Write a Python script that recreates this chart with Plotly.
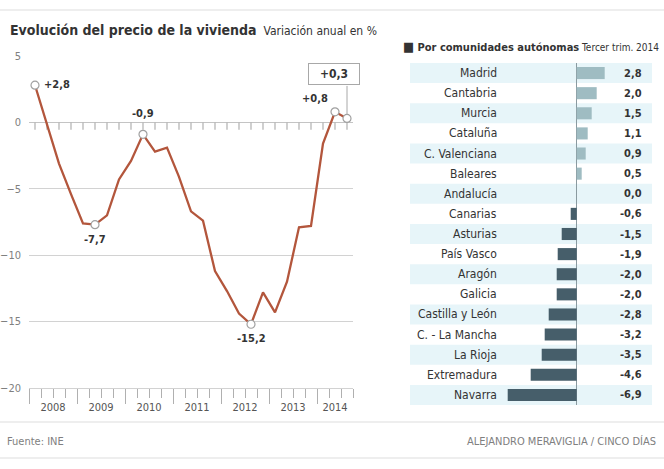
import plotly.graph_objects as go

W, H = 664, 469

# ---------------- data ----------------
quarters = ["2008T1","2008T2","2008T3","2008T4",
            "2009T1","2009T2","2009T3","2009T4",
            "2010T1","2010T2","2010T3","2010T4",
            "2011T1","2011T2","2011T3","2011T4",
            "2012T1","2012T2","2012T3","2012T4",
            "2013T1","2013T2","2013T3","2013T4",
            "2014T1","2014T2","2014T3"]
variacion = [2.8, -0.2, -3.1, -5.4,
             -7.6, -7.7, -7.0, -4.3,
             -2.9, -0.9, -2.2, -1.9,
             -4.1, -6.7, -7.4, -11.2,
             -12.7, -14.4, -15.2, -12.8,
             -14.3, -12.0, -7.9, -7.8,
             -1.6, 0.8, 0.3]
years = ["2008", "2009", "2010", "2011", "2012", "2013", "2014"]
y_ticks = [5, 0, -5, -10, -15, -20]
highlight_idx = [0, 5, 9, 18, 25, 26]

regiones = ["Madrid", "Cantabria", "Murcia", "Cataluña", "C. Valenciana",
            "Baleares", "Andalucía", "Canarias", "Asturias", "País Vasco",
            "Aragón", "Galicia", "Castilla y León", "C. - La Mancha",
            "La Rioja", "Extremadura", "Navarra"]
valores = [2.8, 2.0, 1.5, 1.1, 0.9, 0.5, 0.0, -0.6, -1.5, -1.9,
           -2.0, -2.0, -2.8, -3.2, -3.5, -4.6, -6.9]

# ---------------- style ----------------
FONT = "DejaVu Sans Condensed, Liberation Sans Narrow, Roboto, sans-serif"
LINE_C = "#b3563c"
GRID_C = "#d2d2d2"
TICK_C = "#b0b0b0"
POS_C = "#9fbcc2"
NEG_C = "#465e6a"
STRIPE_C = "#e7f5f9"
TXT = "#333333"
GRAY_TXT = "#808080"

def px_x(p):
    return p / W

def px_y(p):
    return (H - p) / H

def fmt(v, sign=False):
    s = f"{v:+.1f}" if sign else f"{v:.1f}"
    return s.replace(".", ",")

xq = [i + 0.5 for i in range(len(variacion))]
n_q = len(variacion)

fig = go.Figure()

# small tick marks hanging from the zero line at every quarter
fig.add_trace(go.Scatter(x=xq, y=[0] * n_q, mode="markers",
                         marker=dict(size=2, color="rgba(255,255,255,0)"),
                         error_y=dict(type="data", symmetric=False,
                                      array=[0] * n_q, arrayminus=[0.55] * n_q,
                                      width=0, thickness=1.2, color=TICK_C,
                                      visible=True),
                         hoverinfo="skip", xaxis="x", yaxis="y"))
# line
fig.add_trace(go.Scatter(x=xq, y=variacion, mode="lines",
                         line=dict(color=LINE_C, width=2.3),
                         hoverinfo="skip", xaxis="x", yaxis="y"))
fig.add_trace(go.Scatter(x=[xq[i] for i in highlight_idx],
                         y=[variacion[i] for i in highlight_idx],
                         mode="markers",
                         marker=dict(color="white", size=8,
                                     line=dict(color="#a0a0a0", width=1.2)),
                         hoverinfo="skip", xaxis="x", yaxis="y"))
# invisible carrier so the year-label axis gets drawn
fig.add_trace(go.Scatter(x=xq, y=variacion, mode="lines", opacity=0,
                         line=dict(width=0), hoverinfo="skip",
                         xaxis="x2", yaxis="y"))

# bars
fig.add_trace(go.Bar(y=regiones, x=valores, orientation="h",
                     marker=dict(color=[POS_C if v > 0 else NEG_C for v in valores],
                                 line=dict(width=0)),
                     width=0.6, hoverinfo="skip", xaxis="x4", yaxis="y4"))

x_dom = [px_x(29), px_x(353)]
y_dom = [px_y(388), px_y(56)]

year_starts = list(range(0, n_q, 4))
minor_vals = [q for q in range(0, n_q + 1) if q % 4 != 0]
year_mids = [min(s + 4, n_q) / 2 + s / 2 for s in year_starts]

annotations = []
shapes = []

# point labels
lab_style = dict(showarrow=False, font=dict(family=FONT, size=11, color=TXT),
                 xref="x", yref="y")
annotations.append(dict(x=xq[0], y=variacion[0], text="<b>" + fmt(variacion[0], True) + "</b>",
                        xanchor="left", yanchor="middle", xshift=7, yshift=1, **lab_style))
annotations.append(dict(x=xq[9], y=variacion[9], text="<b>" + fmt(variacion[9]) + "</b>",
                        xanchor="center", yanchor="bottom", yshift=12, **lab_style))
annotations.append(dict(x=xq[5], y=variacion[5], text="<b>" + fmt(variacion[5]) + "</b>",
                        xanchor="center", yanchor="top", yshift=-6, **lab_style))
annotations.append(dict(x=xq[18], y=variacion[18], text="<b>" + fmt(variacion[18]) + "</b>",
                        xanchor="center", yanchor="top", yshift=-6, **lab_style))
annotations.append(dict(x=xq[25], y=variacion[25], text="<b>" + fmt(variacion[25], True) + "</b>",
                        xanchor="right", yanchor="bottom", xshift=-5, yshift=5, **lab_style))
# boxed last value + leader
annotations.append(dict(x=xq[26], y=variacion[26], text="", showarrow=True,
                        arrowhead=0, arrowwidth=1, arrowcolor="#a8a8a8",
                        ax=0, ay=-34, standoff=4, xref="x", yref="y"))
annotations.append(dict(x=xq[26], y=variacion[26], text="<b>" + fmt(variacion[26], True) + "</b>",
                        showarrow=False, xref="x", yref="y",
                        xanchor="center", yanchor="bottom", xshift=-13, yshift=33,
                        font=dict(family=FONT, size=12, color=TXT),
                        bordercolor="#a8a8a8", borderwidth=1, borderpad=3,
                        bgcolor="white", width=44))

# right panel stripes, labels, values
for i, (r, v) in enumerate(zip(regiones, valores)):
    if i % 2 == 0:
        shapes.append(dict(type="rect", xref="paper", yref="y4",
                           x0=px_x(410), x1=px_x(652), y0=i - 0.5, y1=i + 0.5,
                           fillcolor=STRIPE_C, line=dict(width=0), layer="below"))
    annotations.append(dict(x=px_x(499), y=r, xref="paper", yref="y4", text=r,
                            showarrow=False, xanchor="right", yanchor="middle",
                            font=dict(family=FONT, size=12, color=TXT)))
    annotations.append(dict(x=px_x(644), y=r, xref="paper", yref="y4",
                            text="<b>" + fmt(v) + "</b>",
                            showarrow=False, xanchor="right", yanchor="middle",
                            font=dict(family=FONT, size=11, color=TXT)))

# titles
annotations.append(dict(x=px_x(8), y=px_y(30), xref="paper", yref="paper",
                        xanchor="left", yanchor="middle", showarrow=False,
                        text="<b>Evolución del precio de la vivienda</b>"
                             "<span style='font-size:12px'>  Variación anual en %</span>",
                        font=dict(family=FONT, size=14, color=TXT)))
annotations.append(dict(x=px_x(401), y=px_y(47), xref="paper", yref="paper",
                        xanchor="left", yanchor="middle", showarrow=False,
                        text="<b><span style='font-size:13px'>■</span> Por comunidades autónomas</b>"
                             "<span style='font-size:10px'> Tercer trim. 2014</span>",
                        font=dict(family=FONT, size=11, color=TXT)))
# footer
annotations.append(dict(x=px_x(5), y=px_y(441), xref="paper", yref="paper",
                        xanchor="left", yanchor="middle", showarrow=False,
                        text="Fuente: INE",
                        font=dict(family=FONT, size=11, color=GRAY_TXT)))
annotations.append(dict(x=px_x(658), y=px_y(441), xref="paper", yref="paper",
                        xanchor="right", yanchor="middle", showarrow=False,
                        text="ALEJANDRO MERAVIGLIA / CINCO DÍAS",
                        font=dict(family=FONT, size=11, color=GRAY_TXT)))

for yy in (10, 422, 458):
    shapes.append(dict(type="line", xref="paper", yref="paper",
                       x0=0, x1=1, y0=px_y(yy), y1=px_y(yy),
                       line=dict(color="#dedede", width=1.2)))

bar_dom_x = [px_x(505), px_x(652)]
bar_range = [(505 - 576.7) / 10, (652 - 576.7) / 10]

fig.update_layout(
    width=W, height=H, margin=dict(l=0, r=0, t=0, b=0, autoexpand=False),
    paper_bgcolor="white", plot_bgcolor="rgba(0,0,0,0)",
    showlegend=False, font=dict(family=FONT, color=TXT),
    annotations=annotations, shapes=shapes,
    xaxis=dict(domain=x_dom, range=[0, n_q], anchor="y", automargin=False,
               showgrid=False, zeroline=False, showline=True,
               linecolor=GRID_C, linewidth=1,
               tickmode="array", tickvals=year_starts, ticks="outside",
               ticklen=15, tickcolor=TICK_C, tickwidth=1,
               showticklabels=False,
               minor=dict(tickmode="array", tickvals=minor_vals, ticks="outside",
                          ticklen=9, tickcolor=TICK_C, tickwidth=1, showgrid=False)),
    xaxis2=dict(overlaying="x", range=[0, n_q], anchor="y", side="bottom",
                automargin=False,
                showgrid=False, zeroline=False, showline=False,
                tickmode="array", tickvals=year_mids, ticktext=years,
                ticks="outside", ticklen=9, tickcolor="rgba(0,0,0,0)",
                tickfont=dict(family=FONT, size=11, color="#555555")),
    yaxis=dict(domain=y_dom, range=[-20, 5], anchor="x", automargin=False,
               tickmode="array", tickvals=y_ticks,
               showgrid=True, gridcolor=GRID_C, gridwidth=1.2,
               zeroline=True, zerolinecolor="#c4c4c4", zerolinewidth=1.2,
               showline=False,
               ticks="", ticklabelstandoff=7,
               tickfont=dict(family=FONT, size=11, color=GRAY_TXT)),
    xaxis4=dict(domain=bar_dom_x, range=bar_range, anchor="y4", automargin=False,
                showgrid=False, zeroline=True, zerolinecolor="#8a9aa0",
                zerolinewidth=1, showline=False, showticklabels=False, ticks=""),
    yaxis4=dict(domain=[px_y(405), px_y(63)], anchor="x4", automargin=False,
                range=[len(regiones) - 0.5, -0.5], type="category",
                showgrid=False, zeroline=False, showline=False,
                showticklabels=False, ticks=""),
)

fig.write_html("out.html", config={"displayModeBar": False},
               post_script="document.body.style.margin='0';document.body.style.overflow='hidden';")
